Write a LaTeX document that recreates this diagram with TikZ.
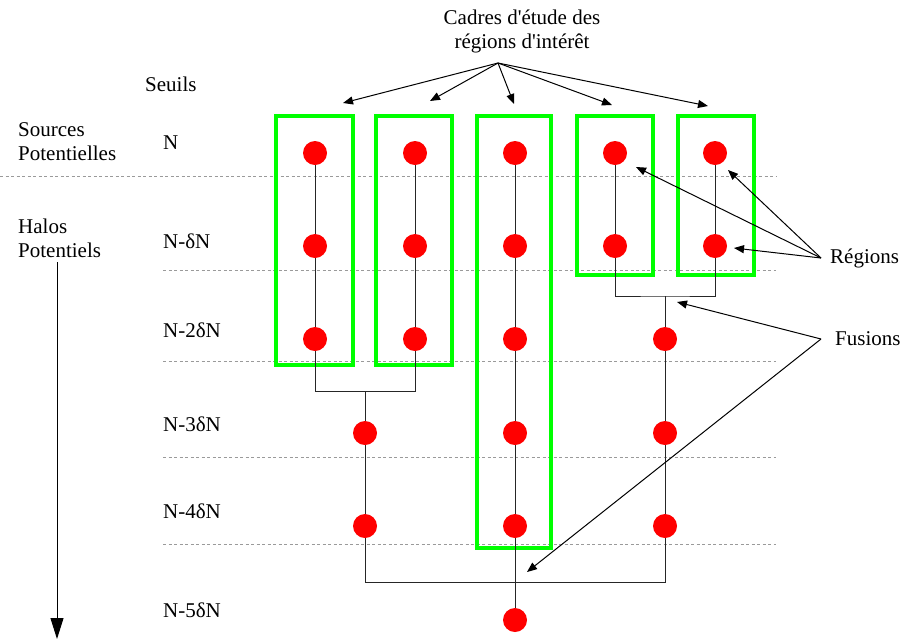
\documentclass[tikz,border=0pt]{standalone}
\usepackage{fontspec}
\setmainfont{Liberation Serif}[Ligatures=TeXOff]
\usetikzlibrary{positioning, arrows.meta}
\definecolor{DotRed}   {HTML}{FF0000}
\definecolor{FrameGrn} {HTML}{00FF00}
\definecolor{LevelGry} {HTML}{9A9A9A}

\tikzset{
  dot/.style={circle, fill=DotRed, minimum size=24pt, inner sep=0pt},
  lbl/.style={font=\fontsize{21}{24}\selectfont, inner sep=0pt},
  level/.style={draw=LevelGry, line width=0.9pt, dash pattern=on 3pt off 2.5pt},
  frame/.style={draw=FrameGrn, line width=4.5pt},
  link/.style={draw=black!85, line width=1pt},
  ptr/.style={draw=black, line width=1pt, -{Triangle[length=10pt, width=8pt]}}
}

\begin{document}
\begin{tikzpicture}[x=1pt, y=-1pt]
  \useasboundingbox (0,0) rectangle (902,641);

  % levels
  \draw[level] (0,176) -- (776,176);
  \draw[level] (163,270) -- (776,270);
  \draw[level] (163,361) -- (776,361);
  \draw[level] (163,457) -- (776,457);
  \draw[level] (163,544) -- (776,544);

  % labels on the left
  \node[lbl, anchor=west] (seuils) at (145,84) {Seuils};
  \node[lbl, anchor=west, align=left] (src) at (18,142) {Sources\\Potentielles};
  \node[lbl, anchor=west, align=left] (halo) at (18,238) {Halos\\Potentiels};
  \node[lbl, anchor=west] (n0) at (163,143) {N};
  \node[lbl, anchor=west] (n1) at (163,241) {N-δN};
  \node[lbl, anchor=west] (n2) at (163,330) {N-2δN};
  \node[lbl, anchor=west] (n3) at (163,424) {N-3δN};
  \node[lbl, anchor=west] (n4) at (163,511) {N-4δN};
  \node[lbl, anchor=west] (n5) at (163,610) {N-5δN};
  \coordinate (downtop) at (57,262);
  \coordinate (downend) at (57,639);
  \draw[line width=1pt, -{Triangle[length=21pt, width=13pt]}] (downtop) -- (downend);

  % frames
  \draw[frame] (276,116) rectangle (353,365);
  \draw[frame] (376,116) rectangle (452,365);
  \draw[frame] (477,116) rectangle (551,548);
  \draw[frame] (577,116) rectangle (653,275);
  \draw[frame] (678,116) rectangle (754,275);

  % dots
  \node[dot] (a0) at (315,153) {};
  \node[dot] (a1) at (315,246) {};
  \node[dot] (a2) at (315,339) {};
  \node[dot] (b0) at (415,153) {};
  \node[dot] (b1) at (415,246) {};
  \node[dot] (b2) at (415,339) {};
  \node[dot] (ab3) at (365,433) {};
  \node[dot] (ab4) at (365,526) {};
  \node[dot] (c0) at (515,153) {};
  \node[dot] (c1) at (515,246) {};
  \node[dot] (c2) at (515,339) {};
  \node[dot] (c3) at (515,433) {};
  \node[dot] (c4) at (515,526) {};
  \node[dot] (c5) at (515,620) {};
  \node[dot] (d0) at (615,153) {};
  \node[dot] (d1) at (615,246) {};
  \node[dot] (e0) at (715,153) {};
  \node[dot] (e1) at (715,246) {};
  \node[dot] (de2) at (665,339) {};
  \node[dot] (de3) at (665,433) {};
  \node[dot] (de4) at (665,526) {};

  % links
  \coordinate (mab) at (365,391);
  \coordinate (mde) at (665,296);
  \coordinate (mall) at (515,582);
  \draw[link] (a0) -- (a1) -- (a2);
  \draw[link] (b0) -- (b1) -- (b2);
  \draw[link] (a2) |- (mab) -| (b2);
  \draw[link] (mab) -- (ab3) -- (ab4);
  \draw[link] (d0) -- (d1);
  \draw[link] (e0) -- (e1);
  \draw[link] (d1) |- (mde) -| (e1);
  \draw[link] (mde) -- (de2) -- (de3) -- (de4);
  \draw[link] (ab4) |- (mall) -| (de4);
  \draw[link] (c0) -- (c1) -- (c2) -- (c3) -- (c4) -- (c5);

  % annotations
  \node[lbl, align=center] (cadres) at (522,31) {Cadres d'étude des\\régions d'intérêt};
  \coordinate (csrc) at (498,63);
  \coordinate (t1) at (343,103);
  \coordinate (t2) at (430,101);
  \coordinate (t3) at (514,104);
  \coordinate (t4) at (612,105);
  \coordinate (t5) at (708,106);
  \draw[ptr] (csrc) -- (t1);
  \draw[ptr] (csrc) -- (t2);
  \draw[ptr] (csrc) -- (t3);
  \draw[ptr] (csrc) -- (t4);
  \draw[ptr] (csrc) -- (t5);

  \node[lbl, anchor=west, inner xsep=9pt] (reg) at (821,258) {Régions};
  \coordinate (r1) at (636,167);
  \coordinate (r2) at (728,170);
  \coordinate (r3) at (734,248);
  \draw[ptr] (reg.west) -- (r1);
  \draw[ptr] (reg.west) -- (r2);
  \draw[ptr] (reg.west) -- (r3);

  \node[lbl, anchor=west, inner xsep=14pt] (fus) at (821,339) {Fusions};
  \coordinate (f1) at (677,302);
  \coordinate (f2) at (527,572);
  \draw[ptr] (fus.west) -- (f1);
  \draw[ptr] (fus.west) -- (f2);
\end{tikzpicture}
\end{document}
